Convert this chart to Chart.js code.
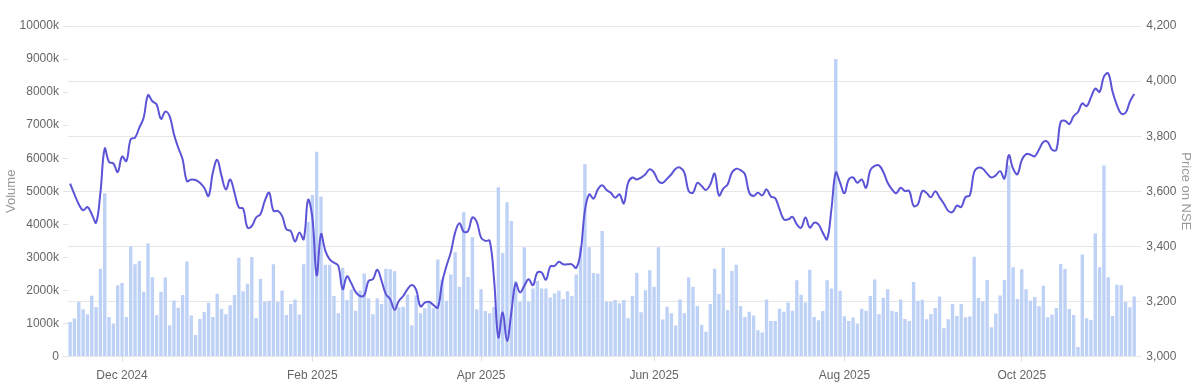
<!DOCTYPE html>
<html>
<head>
<meta charset="utf-8">
<script src="https://cdn.jsdelivr.net/npm/chart.js@4.4.1/dist/chart.umd.min.js"></script>
<style>
  html, body { margin: 0; padding: 0; background: #fff; }
  #wrap { width: 1203px; height: 392px; }
</style>
</head>
<body>
<div id="wrap"><canvas id="volumeChart" width="1203" height="392"></canvas></div>
<script>
// trading calendar (NSE)
const firstDay = '2024-11-12';
const lastDay = '2025-11-11';
const holidays = ['2024-11-15', '2024-11-20', '2024-12-25', '2025-02-26', '2025-03-14', '2025-03-31',
    '2025-04-10', '2025-04-14', '2025-04-18', '2025-05-01', '2025-08-15', '2025-08-27',
    '2025-10-02', '2025-10-22', '2025-11-05'];
const specialSessions = ['2025-02-01'];
const monthNames = ['Jan', 'Feb', 'Mar', 'Apr', 'May', 'Jun', 'Jul', 'Aug', 'Sep', 'Oct', 'Nov', 'Dec'];

// volume in thousands of shares
const volume = [
    1050, 1150, 1650, 1430, 1280, 1840, 1500, 2660, 4940, 1200,
    1000, 2160, 2230, 1200, 3340, 2790, 2890, 1960, 3420, 2400,
    1250, 1960, 2390, 950, 1700, 1480, 1860, 2880, 1240, 650,
    1140, 1350, 1630, 1200, 1900, 1450, 1280, 1550, 1860, 2990,
    1980, 2200, 3010, 1170, 2350, 1660, 1690, 2790,
    1660, 2000, 1260, 1590, 1730, 1270, 2790, 4070, 4890, 6200,
    4840, 2780, 2780, 1830, 1310, 2690, 1710, 2030, 1390, 1990,
    2510, 1760, 1280, 1760, 1590, 2660, 2640, 2580, 1490, 1510,
    1880, 950, 1850, 1310, 1460, 1630, 1460, 2940, 2330, 1690,
    2480, 3160, 2110, 4370, 2410, 3610, 1430, 2040, 1380, 1310,
    1500, 5120, 3130, 4670, 4100, 2290, 1660, 3310, 1660, 2060,
    2290, 2060, 2060, 1790, 1910, 1990, 1740, 1980, 1830, 2480,
    3310, 5820, 3310, 2530, 2510, 3800, 1660, 1660, 1710, 1610,
    1710, 1160, 1830, 2540, 1340, 2010, 2610, 2110, 3310, 1120,
    1510, 1310, 940, 1730, 1310, 2390, 2110, 1530, 960,
    750, 1590, 2660, 1890, 3290, 1410, 2590, 2780, 1530, 1200,
    1360, 1240, 800, 730, 1730, 1080, 1080, 1450, 1360, 1640,
    1390, 2310, 1870, 1640, 2630, 1200, 1100, 1380, 2310, 2060,
    9000, 1990, 1220, 1080, 1180, 1000, 1450, 1390, 1830, 2330,
    1280, 1780, 2040, 1390, 1360, 1730, 1140, 1080, 2260, 1690,
    1720, 1130, 1290, 1470, 1820, 860, 1130, 1590, 1230, 1590,
    1190, 1210, 3020, 1770, 1670, 2320, 890, 1300, 1850, 2320,
    5780, 2700, 1740, 2640, 2040, 1700, 1800, 1520, 2140, 1190,
    1270, 1470, 2800, 2650, 1440, 1260, 290, 3090, 1160, 1110,
    3720, 2700, 5780, 2400, 1230, 2170, 2160, 1650, 1490, 1820
];

// closing price on NSE
const price = [
    3628, 3589, 3553, 3531, 3543, 3517, 3486, 3595, 3755, 3706,
    3701, 3670, 3726, 3710, 3789, 3795, 3831, 3867, 3949, 3927,
    3915, 3863, 3889, 3873, 3807, 3758, 3716, 3637, 3643, 3641,
    3631, 3613, 3583, 3668, 3714, 3656, 3607, 3643, 3595, 3541,
    3537, 3468, 3474, 3505, 3517, 3565, 3595, 3529,
    3529, 3511, 3462, 3456, 3418, 3450, 3426, 3569, 3505, 3295,
    3444, 3384, 3353, 3341, 3329, 3245, 3291, 3266, 3235, 3220,
    3223, 3275, 3281, 3315, 3275, 3227, 3208, 3170, 3202, 3220,
    3245, 3260, 3242, 3182, 3196, 3199, 3187, 3178, 3269, 3329,
    3378, 3450, 3484, 3453, 3456, 3505, 3489, 3432, 3420, 3420,
    3281, 3070, 3160, 3057, 3160, 3266, 3233, 3257, 3281, 3259,
    3305, 3305, 3279, 3327, 3329, 3344, 3335, 3335, 3335, 3322,
    3378, 3529, 3589, 3573, 3607, 3622, 3605, 3595, 3577, 3589,
    3556, 3631, 3650, 3643, 3650, 3662, 3680, 3668, 3637, 3631,
    3646, 3662, 3682, 3686, 3668, 3601, 3595, 3631, 3619,
    3605, 3625, 3664, 3585, 3610, 3625, 3668, 3682, 3677, 3662,
    3595, 3583, 3595, 3585, 3607, 3581, 3575, 3535, 3498, 3498,
    3507, 3480, 3468, 3505, 3468, 3486, 3480, 3450, 3426, 3535,
    3668, 3631, 3593, 3643, 3650, 3631, 3643, 3613, 3677, 3692,
    3694, 3670, 3631, 3607, 3593, 3613, 3601, 3601, 3547, 3553,
    3601, 3594, 3578, 3600, 3578, 3555, 3529, 3525, 3548, 3543,
    3579, 3585, 3670, 3686, 3682, 3664, 3650, 3658, 3673, 3646,
    3731, 3682, 3662, 3713, 3735, 3733, 3727, 3752, 3779, 3779,
    3751, 3751, 3852, 3856, 3844, 3873, 3888, 3919, 3909, 3941,
    3973, 3961, 4016, 4028, 3961, 3913, 3882, 3885, 3925, 3953
];

function tradingDays() {
    const days = [];
    const d = new Date(firstDay + 'T00:00:00Z');
    const end = new Date(lastDay + 'T00:00:00Z');
    while (d <= end) {
        const iso = d.toISOString().slice(0, 10);
        const wd = d.getUTCDay();
        const weekday = wd !== 0 && wd !== 6;
        if ((weekday && !holidays.includes(iso)) || specialSessions.includes(iso)) {
            days.push(iso);
        }
        d.setUTCDate(d.getUTCDate() + 1);
    }
    return days;
}

const dates = tradingDays();
if (dates.length !== volume.length) {
    console.log('dates/volume mismatch', dates.length, volume.length);
}

// label only the first trading day of every second month
function tickText(index) {
    const cur = dates[index];
    if (!cur) return null;
    const prev = dates[index - 1];
    const m = Number(cur.slice(5, 7));
    if (index > 0 && prev.slice(5, 7) !== cur.slice(5, 7) && m % 2 === 0) {
        return monthNames[m - 1] + ' ' + cur.slice(0, 4);
    }
    return null;
}

Chart.defaults.font.family = 'Arial, "Liberation Sans", sans-serif';
Chart.defaults.font.size = 12;
Chart.defaults.color = '#666';

const ctx = document.getElementById('volumeChart');

new Chart(ctx, {
    type: 'bar',
    data: {
        labels: dates,
        datasets: [{
            type: 'line',
            label: 'Price',
            data: price,
            yAxisID: 'price',
            borderColor: 'rgb(92, 84, 214)',
            borderWidth: 2,
            pointRadius: 0,
            tension: 0.4,
            fill: false,
            order: 0
        }, {
            type: 'bar',
            label: 'Volume',
            data: volume,
            yAxisID: 'volume',
            backgroundColor: 'rgb(190, 209, 246)',
            categoryPercentage: 1,
            barPercentage: 0.78,
            order: 1
        }]
    },
    options: {
        responsive: false,
        animation: false,
        layout: {
            padding: { top: 26, right: 4, left: 0, bottom: 2 }
        },
        scales: {
            x: {
                grid: {
                    offset: false,
                    drawOnChartArea: false,
                    tickLength: 5,
                    color: '#ddd'
                },
                border: { display: false },
                ticks: {
                    autoSkip: false,
                    maxRotation: 0,
                    padding: 7,
                    callback: function (value, index) {
                        return tickText(index);
                    }
                }
            },
            volume: {
                position: 'left',
                min: 0,
                max: 10000,
                grid: {
                    drawOnChartArea: false,
                    tickLength: 5,
                    color: '#e3e3e3'
                },
                border: { display: false },
                ticks: {
                    stepSize: 1000,
                    padding: 4,
                    callback: function (v) {
                        return v === 0 ? '0' : v + 'k';
                    }
                },
                title: {
                    display: true,
                    text: 'Volume',
                    color: '#999',
                    font: { size: 13 },
                    padding: { top: 4, bottom: -4 }
                }
            },
            price: {
                position: 'right',
                min: 3000,
                max: 4200,
                grid: {
                    color: '#e6e6e6',
                    tickLength: 5
                },
                border: { display: false },
                ticks: {
                    stepSize: 200,
                    padding: 5
                },
                title: {
                    display: true,
                    text: 'Price on NSE',
                    color: '#999',
                    font: { size: 13 },
                    padding: { top: 6, bottom: -4 }
                }
            }
        },
        plugins: {
            legend: { display: false },
            tooltip: { enabled: false }
        }
    }
});
</script>
</body>
</html>
